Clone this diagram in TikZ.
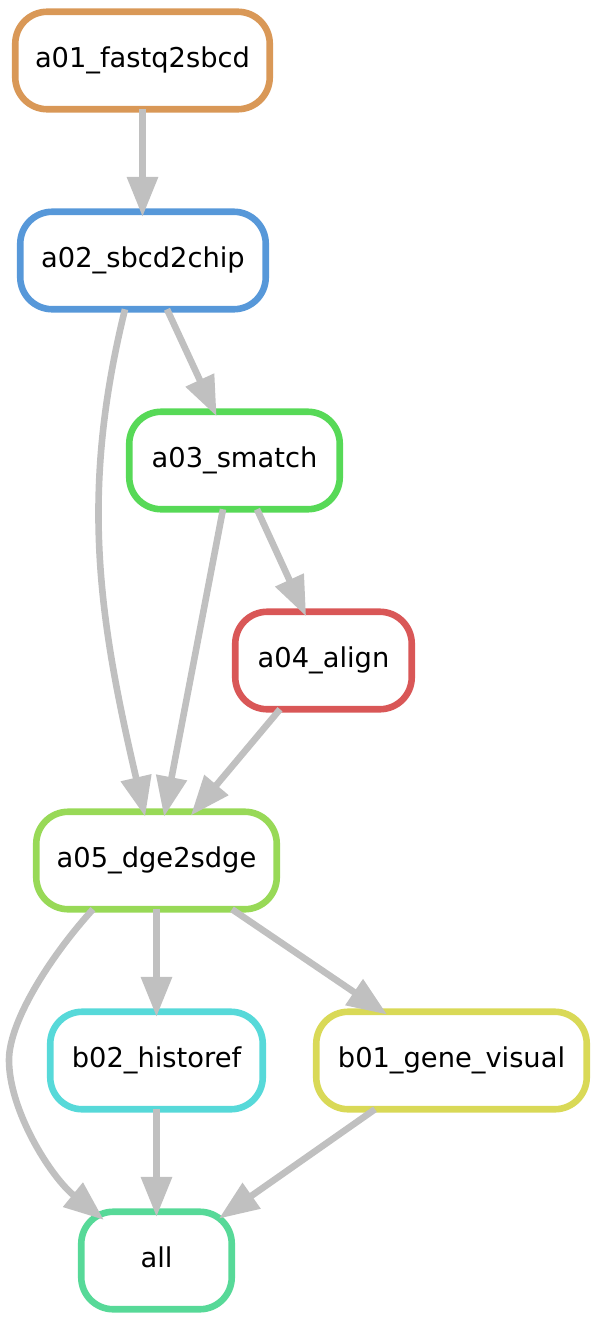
\documentclass[tikz,border=0pt]{standalone}
\usepackage{fontspec}
\setmainfont{DejaVu Sans}
\usetikzlibrary{arrows.meta,calc}
\definecolor{cA}{HTML}{D99857}
\definecolor{cB}{HTML}{5798D9}
\definecolor{cC}{HTML}{57D957}
\definecolor{cD}{HTML}{D95757}
\definecolor{cE}{HTML}{98D957}
\definecolor{cF}{HTML}{57D9D9}
\definecolor{cG}{HTML}{D9D957}
\definecolor{cH}{HTML}{57D998}
\definecolor{edgegray}{HTML}{C0C0C0}
\begin{document}
\begin{tikzpicture}[x=1pt,y=-1pt,
  rulebox/.style={draw=#1, line width=6.6pt, rounded corners=32pt, minimum height=97.5pt,
    inner sep=0pt, outer sep=0pt, font=\fontsize{27.3}{32}\selectfont,
    text height=20.7pt, text depth=6.5pt},
  edgeline/.style={draw=edgegray, line width=6.6pt, shorten >=-5pt,
    -{Triangle[length=40pt,width=30pt]}}]
\useasboundingbox (0,0) rectangle (598,1323);
\node[rulebox=cA, minimum width=254.5pt] (a01) at (142.5,60.5) {a01\_fastq2sbcd};
\node[rulebox=cB, minimum width=245.5pt] (a02) at (143,260.5) {a02\_sbcd2chip};
\node[rulebox=cC, minimum width=210.5pt] (a03) at (234.5,460.5) {a03\_smatch};
\node[rulebox=cD, minimum width=176.5pt] (a04) at (323.5,660.5) {a04\_align};
\node[rulebox=cE, minimum width=240.5pt] (a05) at (156.5,860.5) {a05\_dge2sdge};
\node[rulebox=cF, minimum width=212.5pt] (b02) at (156.5,1060.5) {b02\_historef};
\node[rulebox=cG, minimum width=270.5pt] (b01) at (451.5,1060.5) {b01\_gene\_visual};
\node[rulebox=cH, minimum width=150.5pt] (all) at (156.5,1260.5) {all};
\coordinate (bendL) at (9,1060);

\draw[edgeline] (a01.south) -- (a01.south |- a02.north);
\draw[edgeline] ($(a02.south)+(24,0)$) -- ($(a03.north)+(-20,0)$);
\draw[edgeline] ($(a02.south)+(-18,0)$) .. controls (80,492) and (98,615) .. ($(a05.north)+(-12.5,0)$);
\draw[edgeline] ($(a03.south)+(-11.5,0)$) -- ($(a05.north)+(8.5,0)$);
\draw[edgeline] ($(a03.south)+(22.5,0)$) -- ($(a04.north)+(-19.5,0)$);
\draw[edgeline] ($(a04.south)+(-43.5,0)$) -- ($(a05.north)+(37.5,0)$);
\draw[edgeline] (a05.south) -- (b02.north);
\draw[edgeline] ($(a05.south)+(75.5,0)$) -- ($(b01.north)+(-68.5,0)$);
\draw[edgeline] ($(a05.south)+(-63.5,0)$) .. controls (53,953) and (9,1020) .. (bendL)
  .. controls (9,1110) and (50,1176) .. ($(all.north)+(-56.5,5)$);
\draw[edgeline] (b02.south) -- (all.north);
\draw[edgeline] ($(b01.south)+(-76.5,0)$) -- ($(all.north)+(66.5,4)$);
\end{tikzpicture}
\end{document}
